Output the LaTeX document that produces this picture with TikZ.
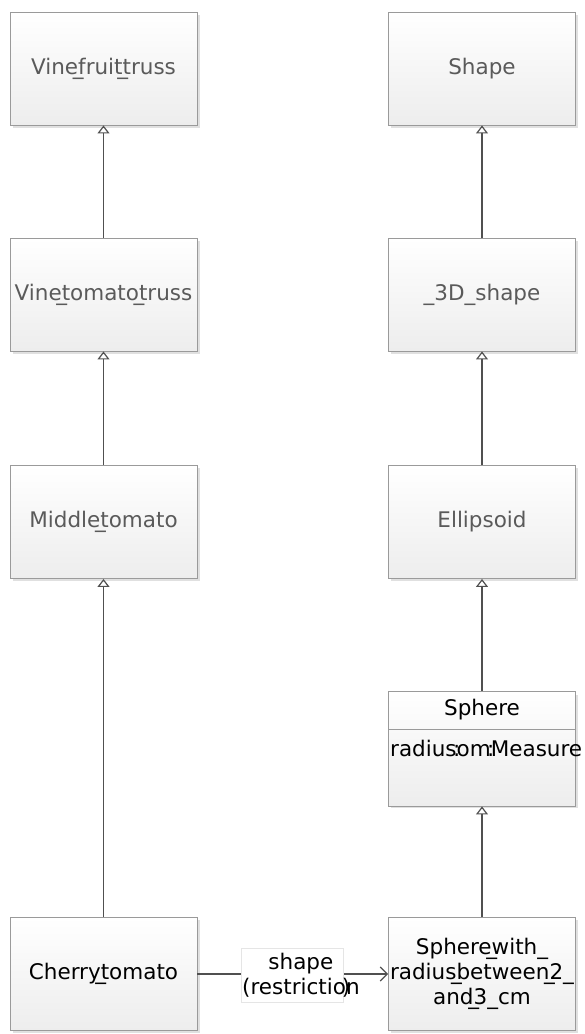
\documentclass[tikz,border=0pt]{standalone}
\usepackage{fontspec}
\setmainfont{DejaVu Sans}
\usetikzlibrary{arrows.meta,positioning}
\definecolor{boxline}{HTML}{9A9A9A}
\definecolor{boxbot}{HTML}{EDEDED}
\definecolor{txtgray}{HTML}{5A5A5A}
\definecolor{linec}{HTML}{505050}
\newcommand{\us}{\makebox[0pt]{\_}}
\newcommand{\zc}[1]{\makebox[0pt]{#1}}
\tikzset{
  cls/.style={draw=boxline, line width=0.9pt, top color=white, bottom color=boxbot,
    minimum width=187pt, minimum height=113pt, inner sep=0pt, align=center,
    font=\fontsize{21.5}{25}\selectfont, text=txtgray},
  clsdark/.style={cls, text=black},
  shadowbox/.style={fill=black!12, draw=none, minimum width=187pt, minimum height=113pt},
  gen/.style={draw=linec, line width=1.2pt, -{Triangle[open, length=8pt, width=12pt, fill=white]}},
  assoc/.style={draw=linec, line width=1.2pt, -{Straight Barb[length=7pt, width=14pt]}},
  lblbox/.style={draw=black!10, fill=white, minimum width=102pt, minimum height=54pt, inner sep=0pt},
  lbltxt/.style={align=center, inner sep=0pt, font=\fontsize{21.5}{25}\selectfont, text=black}
}
\begin{document}
\begin{tikzpicture}[x=1pt,y=1pt]
\useasboundingbox (0,0) rectangle (584,-1034);
% shadows
\foreach \cx/\cy in {103.5/-68.5,103.5/-294.5,103.5/-522,103.5/-974,482/-68.5,482/-294.5,482/-522,482/-974,482/-748.5}{
  \node[shadowbox] at (\cx+2.5,\cy-2.5) {};
}
% left column
\node[cls] (vft) at (103.5,-68.5) {Vine\us fruit\us truss};
\node[cls] (vtt) at (103.5,-294.5) {Vine\us tomato\us truss};
\node[cls] (mt) at (103.5,-522) {Middle\us tomato};
\node[clsdark] (ct) at (103.5,-974) {Cherry\us tomato};
% right column
\node[cls] (shape) at (482,-68.5) {Shape};
\node[cls] (s3d) at (482,-294.5) {\_3D\_shape};
\node[cls] (ell) at (482,-522) {Ellipsoid};
\node[clsdark, minimum height=115pt] (sph) at (482,-748.5) {};
\draw[boxline, line width=0.9pt] (sph.west |- 0,-729) coordinate (dl) -- (sph.east |- 0,-729) coordinate (dr);
\node[font=\fontsize{21.5}{25}\selectfont, text=black] (sphT) at (482,-710) {Sphere};
\node[font=\fontsize{21.5}{25}\selectfont, text=black, anchor=west, inner sep=0pt] (sphA) at (390,-748) {radius\zc{:}om\zc{:}Measure};
\node[clsdark] (swr) at (482,-974) {Sphere\us with\_\\radius\us between\us 2\_\\and\us 3\_cm};
% generalizations
\draw[gen] (vtt) -- (vft);
\draw[gen] (mt) -- (vtt);
\draw[gen] (ct) -- (mt);
\draw[gen] (s3d) -- (shape);
\draw[gen] (ell) -- (s3d);
\draw[gen] (sph) -- (ell);
\draw[gen] (swr) -- (sph);
% association
\draw[assoc] (ct) -- (swr);
\node[lblbox] (lab) at (292,-975) {};
\node[lbltxt, anchor=west] (labt) at (242,-975) {shape\\(restrictio\zc{)}n};
\end{tikzpicture}
\end{document}
